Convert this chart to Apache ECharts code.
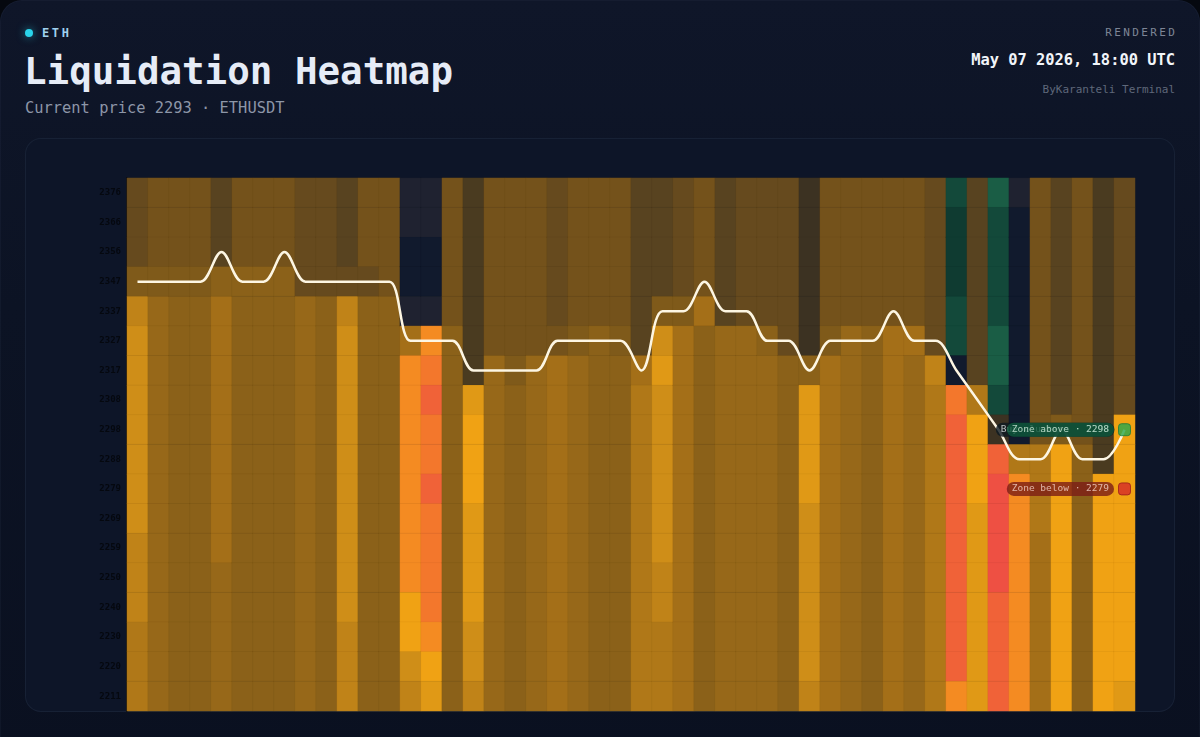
<!DOCTYPE html>
<html>
<head>
<meta charset="utf-8">
<script src="https://cdn.jsdelivr.net/npm/echarts@6/dist/echarts.min.js"></script>
<style>
html,body{margin:0;padding:0;width:1200px;height:737px;overflow:hidden;background:#05080f;font-family:'DejaVu Sans Mono',monospace;}
#card{position:absolute;left:0;top:0;width:1200px;height:770px;border-radius:22px;background:linear-gradient(180deg,#0f1629 0%,#0c1324 40%,#0a1020 100%);box-shadow:inset 0 0 0 1px rgba(140,160,200,0.05);}
#panel{position:absolute;left:25px;top:138px;width:1150px;height:574px;border-radius:16px;background:#0d1528;border:1px solid rgba(130,150,190,0.09);box-sizing:border-box;}
.t{position:absolute;white-space:nowrap;line-height:1;}
#dot{position:absolute;left:25px;top:29px;width:8px;height:8px;border-radius:50%;background:#2ad4ea;box-shadow:0 0 8px rgba(42,212,234,0.6);}
#eth{left:42px;top:27px;font-size:12px;font-weight:bold;color:#9fd0ee;letter-spacing:2.6px;}
#title{left:24px;top:53px;font-size:37.5px;font-weight:bold;color:#e6ecf7;}
#sub{left:25px;top:101px;font-size:15.4px;color:#8d96a8;}
#rendered{right:25px;top:27px;font-size:11px;color:#7d8596;letter-spacing:2.4px;margin-right:-2.4px;}
#date{right:25px;top:53px;font-size:15.4px;font-weight:bold;color:#f2f5fa;}
#by{right:25px;top:84px;font-size:11px;color:#5f687a;}
#chart{position:absolute;left:0;top:0;width:1200px;height:737px;}
</style>
</head>
<body>
<div id="card"></div>
<div id="panel"></div>
<div id="dot"></div>
<div class="t" id="eth">ETH</div>
<div class="t" id="title">Liquidation Heatmap</div>
<div class="t" id="sub">Current price 2293 · ETHUSDT</div>
<div class="t" id="rendered">RENDERED</div>
<div class="t" id="date">May 07 2026, 18:00 UTC</div>
<div class="t" id="by">ByKaranteli Terminal</div>
<div id="chart"></div>
<script>
// Price levels (y categories, bottom -> top)
const priceLevels = ['2211','2220','2230','2240','2250','2259','2269','2279','2288','2298','2308','2317','2327','2337','2347','2356','2366','2376'];

// Intensity codes (low -> high) for the liquidation heat, plus green codes for short clusters
const levelCodes = ['a','b','c','d','e','f','g','h','i','j','k','l','m','n','o','p','q','r','s','t','u','v','w'];

// Heat per time column, read top row (2376) -> bottom row (2211), 18 cells each
const heatColumns = [
  'fffhmn nnnnnn mmmlll','ggghjj jjjjjj jjjjjj','ggghii iiiiii iiiiii','ggghii iiiiii iiiiii',
  'eeeikk kkkkkk kjjjjj','gggiii iiiiii iiiiii','gggiii iiiiii iiiiii','gggiii iiiiii iiiiii',
  'ffffjj jjjjjj jjjjjj','ffffii iiiiii iiiiii','eeefmn nnnnnn nnnmmm','gggfii iiiiii iiiiii',
  'ggggii iiiiii iiiiii','bbaabk qqqqqq qqppnm','bbaabq rsrrsr rrrqpo','gggggi iiiiii iiiiii',
  'dddddd dopppo ooonnm','gggggg jjjjjj jjjjjj','gggggg hiiiii iiiiii','gggggg jjjjjj jjjjjj',
  'fffffg kkkkkk kkkkkk','gggggh jjjjjj jjjjjj','gggggi iiiiii iiiiii','gggggh iiiiii iiiiii',
  'eeeeee klllll llllll','eeeehn onnnnn nmmlll','ffffhk kkkkkk kkkkkk','ggggki iiiiii iiiiii',
  'eeeeej jjjjjj jjjjjj','fffffj jjjjjj jjjjjj','fffffi jjjjjj jjjjjj','ffffff iiiiii iiiiii',
  'cccccc ioooon nnnnnm','gggggh kkkkkk kkkkkk','gggggj jjjjjj jjjjjj','gggggi iiiiii iiiiii',
  'gggggk kkkkkk kkkkkk','gggggk jjjjjj jjjjjj','ffffff mlllll llllll','vuuuvv arssss sssssq',
  'eeeeee elpppo oooooo','wvvvvw wvcstt ttssss','baaaaa aaalqq qqqqqq','gggggg ggglll kkkkkk',
  'eeeeee eehppp pppppp','gggggg gggiii iiiiii','dddddd ddddpp pppppp','ffffff ffpppp pppppo'
];

// Price path (one value per time column)
const priceLine = [
  '2347','2347','2347','2347','2356','2347','2347','2356','2347','2347','2347','2347','2347',
  '2327','2327','2327','2317','2317','2317','2317','2327','2327','2327','2327','2317',
  '2337','2337','2347','2337','2337','2327','2327','2317','2327','2327','2327','2337',
  '2327','2327','2317','2308','2298','2288','2288','2298','2288','2288','2298'
];

const zoneAbove = {label: 'Zone above', price: '2298'};
const zoneBelow = {label: 'Zone below', price: '2279'};
const hiddenTag = {label: 'Buy clusters', price: '2298'};

// palette for the codes
const palette = ['#111a2d','#1f2230','#3c3222','#4a3b20','#584320','#664a1e','#74521b','#7f5a1a','#8b6119','#976819','#a46f18','#b07818','#c08318','#cf8e18','#e09916','#f0a214','#f48b22','#f3772c','#f06238','#ee5043','#0f3b31','#13493a','#1a5d45'];

const timeSlots = heatColumns.map((_, i) => String(i));
const heatData = [];
heatColumns.forEach((col, x) => {
  const cells = col.replace(/\s/g, '');
  for (let r = 0; r < cells.length; r++) {
    heatData.push([x, priceLevels.length - 1 - r, levelCodes.indexOf(cells[r])]);
  }
});
const lineData = priceLine.map((p, i) => [i, priceLevels.indexOf(p)]);
const lastX = timeSlots.length - 1;
const mono = 'DejaVu Sans Mono';

const chart = echarts.init(document.getElementById('chart'));
chart.setOption({
  animation: false,
  backgroundColor: 'transparent',
  grid: {left: 127, right: 65, top: 178, bottom: 26},
  xAxis: {type: 'category', data: timeSlots, show: false},
  yAxis: {
    type: 'category', data: priceLevels,
    axisLine: {show: true, lineStyle: {color: '#070b16', width: 2}},
    axisTick: {show: false}, splitLine: {show: false},
    axisLabel: {color: '#05080f', fontSize: 9, fontWeight: 'bold', fontFamily: mono, margin: 6}
  },
  visualMap: {
    type: 'piecewise', show: false, seriesIndex: 0, dimension: 2,
    pieces: palette.map((c, i) => ({value: i, color: c}))
  },
  series: [
    {
      type: 'heatmap', data: heatData, z: 1,
      itemStyle: {borderColor: 'rgba(0,0,0,0.035)', borderWidth: 1},
      emphasis: {disabled: true}
    },
    {
      type: 'line', data: lineData, smooth: 0.35, symbol: 'none', z: 5,
      lineStyle: {color: '#fdf6e3', width: 2.5}
    },
    {
      type: 'scatter', z: 6, symbol: 'roundRect', symbolSize: 12,
      itemStyle: {color: 'rgba(0,0,0,0)'},
      data: [[lastX, priceLevels.indexOf(hiddenTag.price)]],
      label: {show: true, position: 'left', distance: 4, formatter: hiddenTag.label + ' · ' + hiddenTag.price,
        fontFamily: mono, fontSize: 9.5, color: '#dfe6e6', backgroundColor: '#0b1820', borderRadius: 7, padding: [2, 5]}
    },
    {
      type: 'scatter', z: 7, symbol: 'roundRect', symbolSize: 12,
      itemStyle: {color: '#27a84c', borderColor: '#1c7a3a', borderWidth: 1},
      data: [[lastX, priceLevels.indexOf(zoneAbove.price)]],
      label: {show: true, position: 'left', distance: 4, formatter: zoneAbove.label + ' · ' + zoneAbove.price,
        fontFamily: mono, fontSize: 9.5, color: '#d3efdf', backgroundColor: '#0e5a3c', borderRadius: 7, padding: [2, 5]}
    },
    {
      type: 'scatter', z: 7, symbol: 'roundRect', symbolSize: 12,
      itemStyle: {color: '#d42a28', borderColor: '#9a1c1a', borderWidth: 1},
      data: [[lastX, priceLevels.indexOf(zoneBelow.price)]],
      label: {show: true, position: 'left', distance: 4, formatter: zoneBelow.label + ' · ' + zoneBelow.price,
        fontFamily: mono, fontSize: 9.5, color: '#f4d3c9', backgroundColor: '#7c1d17', borderRadius: 7, padding: [2, 5]}
    }
  ]
});
</script>
</body>
</html>
